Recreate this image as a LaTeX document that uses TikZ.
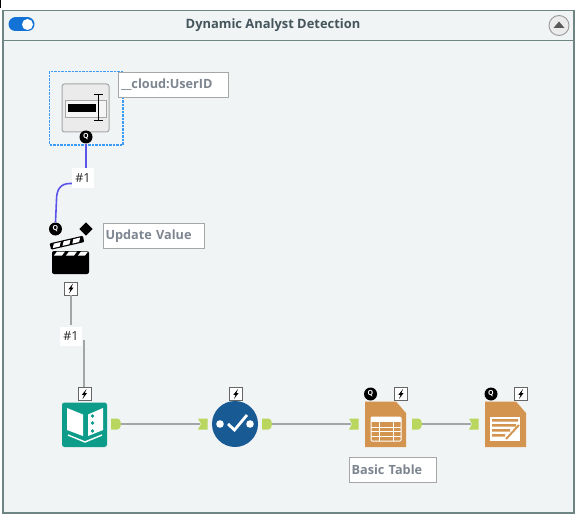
\documentclass[tikz,border=0pt]{standalone}
\usepackage{fontspec}
\setmainfont{Open Sans}
\usetikzlibrary{calc}
\definecolor{panelbg}{HTML}{F1F4F5}
\definecolor{panelline}{HTML}{6F8583}
\definecolor{labtxt}{HTML}{7D8590}
\definecolor{titletxt}{HTML}{45555C}
\definecolor{labline}{HTML}{A6A6A6}
\definecolor{wire}{HTML}{A3A6A6}
\definecolor{bluewire}{HTML}{5A55E8}
\definecolor{anchorg}{HTML}{B9D65E}
\definecolor{tealb}{HTML}{0E9C8A}
\definecolor{navy}{HTML}{175A94}
\definecolor{orangeb}{HTML}{D39450}
\definecolor{toggle}{HTML}{1272D6}
\definecolor{selblue}{HTML}{3C9BF5}
\tikzset{
  x=1pt,y=-1pt,
  lab/.style={draw=labline,line width=1.1pt,fill=white,text=labtxt,font=\bfseries\fontsize{12.7}{14}\selectfont,anchor=north west,inner sep=0pt,minimum height=25pt,align=left},
  hash/.style={fill=white,font=\fontsize{12.5}{14}\selectfont,text=black!85,inner sep=1.5pt,minimum width=22pt,minimum height=19pt},
  wirebl/.style={draw=bluewire,line width=1.6pt},
  wiregr/.style={draw=wire,line width=1.8pt},
  qbadge/.style={circle,fill=black,minimum size=13pt,inner sep=0pt,text=white,font=\bfseries\fontsize{7}{7}\selectfont},
  zbadge/.style={draw=black!60,fill=white,minimum size=13pt,inner sep=0pt,line width=.8pt},
}
\newcommand{\zapmark}[1]{\fill[black] ($(#1)+(2,-5)$) -- ($(#1)+(-2.6,.8)$) -- ($(#1)+(-.4,.8)$) -- ($(#1)+(-2,5)$) -- ($(#1)+(2.6,-1)$) -- ($(#1)+(.4,-1)$) -- cycle;}
\newcommand{\outanch}[2]{\fill[anchorg] ($(#1,#2)+(-5,-5.5)$) -- ($(#1,#2)+(1,-5.5)$) .. controls ($(#1,#2)+(4,-5.5)$) and ($(#1,#2)+(5,-2)$) .. ($(#1,#2)+(5,0)$) .. controls ($(#1,#2)+(5,2)$) and ($(#1,#2)+(4,5.5)$) .. ($(#1,#2)+(1,5.5)$) -- ($(#1,#2)+(-5,5.5)$) -- cycle;}
\newcommand{\inanch}[2]{\fill[anchorg] ($(#1,#2)+(-5,-5.5)$) -- ($(#1,#2)+(4.5,-5.5)$) -- ($(#1,#2)+(4.5,5.5)$) -- ($(#1,#2)+(-5,5.5)$) -- ($(#1,#2)+(-2,0)$) -- cycle;}
\begin{document}
\begin{tikzpicture}
\useasboundingbox (0,0) rectangle (581,524);
\fill[white] (0,0) rectangle (581,524);
\fill[black] (0,0) rectangle (1.2,8);
% panel
\draw[panelline,fill=panelbg,line width=1.3pt] (3,10.5) rectangle (574,513);
\draw[panelline,line width=.9pt] (3,40.5) -- (574,40.5);
\node[font=\bfseries\fontsize{12.9}{15}\selectfont,text=titletxt] (title) at (273,25) {Dynamic Analyst Detection};
% toggle
\draw[toggle,line width=14pt,line cap=round] (15.5,24.5) -- (27.5,24.5);
\fill[white] (27.5,24.5) circle (5.5pt);
% collapse button
\draw[black!40,fill=black!8,line width=.9pt] (559,25.5) circle (10pt);
\fill[black!65] (559,21.5) -- (564.5,28) -- (553.5,28) -- cycle;
% selection
\draw[selblue,dash pattern=on 2.5pt off 1pt,line width=1.1pt] (49.5,71.5) rectangle (123,145);
% text box tool
\draw[black!35,fill=black!8,rounded corners=2.5pt,line width=1pt] (62,84) rectangle (109,132);
\draw[black!35,fill=black!4,line width=.6pt] (65,100) rectangle (106,117);
\fill[black] (68,104) rectangle (96,112);
\draw[black,line width=1pt] (98,95) -- (98,120) (94,94.5) -- (103,94.5) (94,120.5) -- (103,120.5);
\node[lab,minimum width=110pt,text width=107pt] (ulab) at (118,72) {\hspace{1pt}\_\_cloud:UserID};
\node[qbadge] (q1) at (86,137) {Q};
% action tool
\coordinate (q2c) at (55.5,229);
\node[qbadge] (q2) at (q2c) {Q};
\fill[black,rotate around={45:(86,229)}] (81.3,224.3) rectangle (90.7,233.7);
\fill[black,rounded corners=2pt] (52,251) rectangle (89,274);
\fill[white] (57,251.5) -- (65,251.5) -- (62,255.5) -- (54,255.5) -- cycle (69,251.5) -- (77,251.5) -- (74,255.5) -- (66,255.5) -- cycle (81,251.5) -- (88,251.5) -- (85,255.5) -- (78,255.5) -- cycle;
\fill[black,rounded corners=1pt,rotate around={13:(52,249)}] (51,243) rectangle (85,249.5);
\fill[white,rotate around={13:(52,249)}] (55,244.2) -- (62,244.2) -- (60,248.3) -- (53,248.3) -- cycle (65,244.2) -- (72,244.2) -- (70,248.3) -- (63,248.3) -- cycle (75,244.2) -- (82,244.2) -- (80,248.3) -- (73,248.3) -- cycle;
\node[lab,minimum width=101pt,text width=99pt] (vlab) at (103,223) {\hspace{1pt}Update Value};
\node[zbadge] (z1) at (71,288.5) {};
\zapmark{z1}
% wires
\draw[wirebl] (q1.south) -- (86,180);
\draw[wirebl] (86,182) -- (80,183.5) -- (70,183.5) .. controls (60,183.5) and (56.5,190) .. (56.5,200) -- (q2.north);
\node[hash] (h1) at (83,178) {\#1};
\draw[wiregr] (z1.south) -- (71,325);
\draw[wiregr] (84,340) -- (84,387);
\node[hash] (h2) at (71,336) {\#1};
% book tool
\fill[tealb,rounded corners=2.5pt] (62,402.5) rectangle (107,447);
\fill[white] (67,408) -- (83,414.5) -- (83,436) -- (67,430) -- cycle;
\fill[white] (103,408) -- (88,414.5) -- (88,436) -- (103,430) -- cycle;
\fill[tealb] (92.5,416) circle (1.9pt) (92.5,423) circle (1.9pt) (92.5,431) circle (1.9pt);
\draw[white,line width=1.4pt] (68,435) -- (85,442) -- (102,435);
\node[zbadge] (z2) at (84.5,394) {};
\zapmark{z2}
\outanch{116}{424}
\coordinate (o1) at (121,424);
% check tool
\node[circle,fill=navy,minimum size=46pt,inner sep=0pt] (chk) at (235,424) {};
\fill[white] (220,424) circle (3.8pt) (250,424) circle (3.8pt);
\draw[white,line width=2.8pt] (228,424) -- (234.5,430) -- (247,415);
\node[zbadge] (z3) at (236,394) {};
\zapmark{z3}
\inanch{203}{424}
\coordinate (i2) at (200,424);
\outanch{267}{424}
\coordinate (o2) at (272,424);
% table tool
\fill[orangeb] (365,401.5) -- (396,401.5) -- (406,413) -- (406,447) -- (365,447) -- cycle;
\draw[white,line width=1pt,rounded corners=1pt] (371,417) rectangle (401,441);
\fill[white] (371,417) rectangle (401,422);
\draw[white,line width=.8pt] (371,427) -- (401,427) (371,431.5) -- (401,431.5) (371,436) -- (401,436) (379,422) -- (379,441) (393,422) -- (393,441);
\node[qbadge] (q3) at (370.5,394) {Q};
\node[zbadge] (z4) at (401,394) {};
\zapmark{z4}
\inanch{354}{424}
\coordinate (i3) at (351,424);
\outanch{417}{424}
\coordinate (o3) at (422,424);
\node[lab,minimum width=87pt,text width=85pt] (blab) at (349,457) {\hspace{1pt}Basic Table};
% report tool
\fill[orangeb] (485,401.5) -- (516,401.5) -- (526,413) -- (526,447) -- (485,447) -- cycle;
\fill[white] (490,417) rectangle (520,441);
\fill[orangeb] (492,419) rectangle (518,421.5) (492,424) rectangle (516,426.5) (492,429) rectangle (510,431.5) (492,434) rectangle (505,436.5);
\draw[orangeb,line width=2pt] (506,439) -- (519,425);
\node[qbadge] (q4) at (491,394) {Q};
\node[zbadge] (z5) at (521,394) {};
\zapmark{z5}
\inanch{474}{424}
\coordinate (i4) at (471,424);
% connectors
\draw[wiregr] (o1) -- (i2);
\draw[wiregr] (o2) -- (i3);
\draw[wiregr] (o3) -- (i4);
\end{tikzpicture}
\end{document}
